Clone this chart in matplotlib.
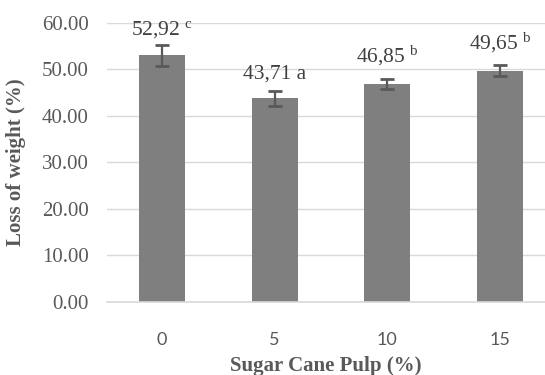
import numpy as np
import matplotlib
matplotlib.use("Agg")
import matplotlib.pyplot as plt

plt.rcParams['mathtext.fontset'] = 'custom'
plt.rcParams['mathtext.rm'] = 'Liberation Serif'
plt.rcParams['mathtext.it'] = 'Liberation Serif'

pulp = ["0", "5", "10", "15"]
loss = [52.92, 43.71, 46.85, 49.65]
err = [2.35, 1.6, 1.1, 1.2]
labels = ["52,92 $^{\\mathrm{c}}$", "43,71 a", "46,85 $^{\\mathrm{b}}$", "49,65 $^{\\mathrm{b}}$"]
yticks = [0, 10, 20, 30, 40, 50, 60]

fig = plt.figure(figsize=(5.45, 3.75), dpi=100)
ax = fig.add_axes([0.196, 0.195, 0.804, 0.745])

x = np.arange(len(pulp))
ax.bar(x, loss, width=0.41, color='#7f7f7f', zorder=2)
ax.errorbar(x, loss, yerr=err, fmt='none', ecolor='#595959', elinewidth=1.6,
            capsize=5, capthick=2, zorder=3)

for xi, v, lab in zip(x, loss, labels):
    ax.annotate(lab, (xi, v), xytext=(0, 11), textcoords='offset points',
                ha='center', va='bottom', fontsize=15.5, color='#404040',
                family='Liberation Serif')

ax.set_xlim(-0.49, 3.4)
ax.set_ylim(0, 60)
ax.set_yticks(yticks)
ax.set_yticklabels(["%.2f" % t for t in yticks], family='Liberation Serif',
                   fontsize=15, color='#595959')
ax.set_xticks(x)
ax.set_xticklabels(pulp, family='Lato', fontsize=13, color='#595959')
ax.tick_params(axis='both', length=0)
ax.tick_params(axis='y', pad=13)
ax.tick_params(axis='x', pad=22)

ax.yaxis.grid(True, color='#d9d9d9', lw=1.0, zorder=0)
ax.set_axisbelow(True)
for s in ['top', 'right', 'left']:
    ax.spines[s].set_visible(False)
ax.spines['bottom'].set_color('#d9d9d9')
ax.spines['bottom'].set_linewidth(1.2)
ax.spines['bottom'].set_zorder(4)

ax.set_xlabel("Sugar Cane Pulp (%)", family='Liberation Serif', fontweight='bold',
              fontsize=15, color='#595959', labelpad=5.5)
ax.set_ylabel("Loss of weight (%)", family='Liberation Serif', fontweight='bold',
              fontsize=15, color='#595959')
ax.yaxis.set_label_coords(-0.185, 0.5)

fig.savefig("out.png", dpi=100)
